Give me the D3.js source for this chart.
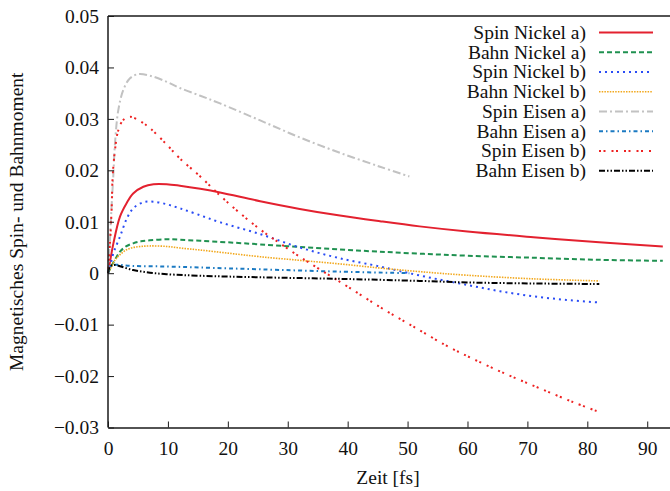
<!DOCTYPE html>
<html>
<head>
<meta charset="utf-8">
<script src="https://cdn.jsdelivr.net/npm/d3@7/dist/d3.min.js"></script>
<style>
  html, body { margin: 0; padding: 0; background: #fff; }
  svg { display: block; }
  text { font-family: "Liberation Serif", "Times New Roman", serif; fill: #111; }
</style>
</head>
<body>
<svg id="chart" width="670" height="491"></svg>
<script>
// Time axis (fs) and magnetic moment samples for each series
const spinNiA_t = [0, 0.3, 0.9, 2, 3.1, 4.2, 5.9, 7.6, 9.8, 12, 15.4, 18.7, 25.4, 32, 38.7, 45.4, 52, 60, 71, 82, 92.6];
const spinNiA   = [0, 0.002, 0.0058, 0.011, 0.0136, 0.0155, 0.0168, 0.0173, 0.0173, 0.0170, 0.0164, 0.0157, 0.0140, 0.0125, 0.0112, 0.0101, 0.0091, 0.0081, 0.0070, 0.0060, 0.0052];

const bahnNiA_t = [0, 0.5, 1.45, 2, 3, 4.2, 5.5, 7, 9.8, 12, 15.4, 20, 25.4, 32, 38.7, 45, 52, 60, 71, 82, 92.6];
const bahnNiA   = [0, 0.0012, 0.0032, 0.0042, 0.0052, 0.0058, 0.0062, 0.0064, 0.0066, 0.0065, 0.0063, 0.0060, 0.0056, 0.0051, 0.0046, 0.0042, 0.0038, 0.0034, 0.0030, 0.0026, 0.0024];

const spinNiB_t = [0, 0.4, 0.9, 2, 3.1, 4.2, 5.9, 7.6, 9.8, 12, 14.8, 18.7, 25.4, 32, 38.7, 45.4, 48.7, 54.3, 60, 65.4, 71, 76.5, 82];
const spinNiB   = [0, 0.0016, 0.0039, 0.0071, 0.0105, 0.0126, 0.0138, 0.0139, 0.0134, 0.0126, 0.0115, 0.0099, 0.0076, 0.0050, 0.0029, 0.0013, 0.0004, -0.0010, -0.0023, -0.0035, -0.0045, -0.0052, -0.0057];

const bahnNiB_t = [0, 0.5, 1.2, 2, 3, 4.2, 5.5, 7, 9.8, 12, 15.4, 20, 25.4, 32, 38.7, 45.4, 52, 60, 71, 82];
const bahnNiB   = [0, 0.0011, 0.0026, 0.0036, 0.0045, 0.0050, 0.0052, 0.0053, 0.0052, 0.0049, 0.0045, 0.0039, 0.0032, 0.0025, 0.0018, 0.0010, 0.0003, -0.0004, -0.0011, -0.0015];

const spinFeA_t = [0, 0.3, 0.6, 0.88, 1.17, 1.72, 2.55, 3.67, 5.06, 7, 9.8, 12, 15.4, 18.7, 25.4, 32, 38.7, 45.4, 50.3];
const spinFeA   = [0, 0.006, 0.013, 0.0188, 0.0253, 0.0317, 0.0356, 0.0379, 0.0387, 0.0384, 0.0372, 0.0360, 0.0345, 0.0330, 0.0297, 0.0264, 0.0234, 0.0207, 0.0188];

const bahnFeA_t = [0, 0.3, 0.9, 4.2, 9.8, 15.4, 25.4, 38.7, 50.3];
const bahnFeA   = [0, 0.0012, 0.0016, 0.0014, 0.0013, 0.0011, 0.00075, 0.0003, 0.0000];

const spinFeB_t = [0, 0.33, 0.6, 0.78, 1.17, 1.72, 2.55, 3.67, 5.3, 7, 9.8, 12, 15.4, 18.7, 22, 25.4, 28.7, 32, 35.4, 39.85, 45.4, 51, 56.5, 61, 66.6, 72.1, 77.7, 82];
const spinFeB   = [0, 0.0058, 0.0123, 0.0188, 0.024, 0.0278, 0.0298, 0.0304, 0.0296, 0.0282, 0.0250, 0.0223, 0.0188, 0.0151, 0.0117, 0.0085, 0.0058, 0.0032, 0.0007, -0.0025, -0.0066, -0.0104, -0.0141, -0.0167, -0.0197, -0.0224, -0.0251, -0.0270];

const bahnFeB_t = [0, 0.3, 0.9, 4.2, 7, 9.8, 15.4, 25.4, 38.7, 52, 60, 71, 82];
const bahnFeB   = [0, 0.0012, 0.0016, 0.0006, 0.0001, -0.0002, -0.0005, -0.0008, -0.0011, -0.0015, -0.0018, -0.0020, -0.0021];

const seriesNames = ["Spin Nickel a)", "Bahn Nickel a)", "Spin Nickel b)", "Bahn Nickel b)",
                     "Spin Eisen a)", "Bahn Eisen a)", "Spin Eisen b)", "Bahn Eisen b)"];

const xTicks = [0, 10, 20, 30, 40, 50, 60, 70, 80, 90];
const yTicks = [-0.03, -0.02, -0.01, 0, 0.01, 0.02, 0.03, 0.04, 0.05];

const xTitle = "Zeit [fs]";
const yTitle = "Magnetisches Spin- und Bahnmoment";

// Line styles per series
const styles = [
  { color: "#e3212f", dash: null,               width: 2 },
  { color: "#1f9150", dash: "5,3",              width: 2 },
  { color: "#2a4cf5", dash: "2,4",              width: 2 },
  { color: "#f2a81d", dash: "1.5,1.2",          width: 1.6 },
  { color: "#c2c2c2", dash: "8,3,2,3",          width: 2 },
  { color: "#1b7ac2", dash: "4,3,1.5,3",        width: 2 },
  { color: "#ee2222", dash: "2,2.5,2,6",        width: 2 },
  { color: "#000000", dash: "6,2,1.5,2,1.5,2",  width: 2 }
];

const seriesT = [spinNiA_t, bahnNiA_t, spinNiB_t, bahnNiB_t, spinFeA_t, bahnFeA_t, spinFeB_t, bahnFeB_t];
const seriesV = [spinNiA, bahnNiA, spinNiB, bahnNiB, spinFeA, bahnFeA, spinFeB, bahnFeB];

const series = seriesNames.map((name, i) => ({
  name,
  style: styles[i],
  points: seriesT[i].map((t, j) => ({ t, v: seriesV[i][j] }))
}));

const svg = d3.select("#chart");
const plotLeft = 108, plotRight = 670, plotTop = 16, plotBottom = 427.5;

const x = d3.scaleLinear().domain([0, 93.8]).range([plotLeft, plotRight]);
const y = d3.scaleLinear().domain([-0.03, 0.05]).range([plotBottom, plotTop]);

const fontSize = "19.5px";

// Curves
const line = d3.line()
  .x(d => x(d.t))
  .y(d => y(d.v))
  .curve(d3.curveCatmullRom.alpha(0.5));

const plot = svg.append("g");
plot.selectAll("path.series")
  .data(series)
  .join("path")
  .attr("class", "series")
  .attr("d", d => line(d.points))
  .attr("fill", "none")
  .attr("stroke", d => d.style.color)
  .attr("stroke-width", d => d.style.width)
  .attr("stroke-dasharray", d => d.style.dash);

// Axes with inward ticks
const axisColor = "#1a1a1a";
const yAxis = d3.axisLeft(y)
  .tickValues(yTicks)
  .tickFormat(v => v === 0 ? "0" : d3.format(".2f")(v))
  .tickSizeInner(-6)
  .tickSizeOuter(0)
  .tickPadding(9);

const xAxis = d3.axisBottom(x)
  .tickValues(xTicks)
  .tickFormat(d3.format("d"))
  .tickSizeInner(-6)
  .tickSizeOuter(0)
  .tickPadding(14);

const gy = svg.append("g").attr("transform", `translate(${plotLeft},0)`).call(yAxis);
const gx = svg.append("g").attr("transform", `translate(0,${plotBottom})`).call(xAxis);

[gx, gy].forEach(g => {
  g.select(".domain").attr("stroke", axisColor).attr("stroke-width", 1.5);
  g.selectAll(".tick line").attr("stroke", axisColor).attr("stroke-width", 1);
  g.selectAll(".tick text")
    .attr("fill", "#111")
    .style("font-family", '"Liberation Serif", "Times New Roman", serif')
    .style("font-size", fontSize);
});
gy.select(".domain").attr("d", `M0,${plotTop}V${plotBottom}`);

// Top border of the frame
svg.append("line")
  .attr("x1", plotLeft).attr("x2", plotRight)
  .attr("y1", plotTop).attr("y2", plotTop)
  .attr("stroke", axisColor).attr("stroke-width", 1.5);

// Axis titles
svg.append("text")
  .attr("x", 388).attr("y", 484)
  .attr("text-anchor", "middle")
  .style("font-size", fontSize)
  .text(xTitle);

svg.append("text")
  .attr("transform", `translate(23,${(plotTop + plotBottom) / 2}) rotate(-90)`)
  .attr("text-anchor", "middle")
  .style("font-size", fontSize)
  .text(yTitle);

// Legend
const legend = svg.append("g");
const rowY0 = 32.5, rowStep = 19.75;
const rows = legend.selectAll("g.row")
  .data(series)
  .join("g")
  .attr("class", "row")
  .attr("transform", (d, i) => `translate(0,${rowY0 + i * rowStep})`);

rows.append("text")
  .attr("x", 586).attr("y", 0).attr("dy", "0.33em")
  .attr("text-anchor", "end")
  .style("font-size", fontSize)
  .text(d => d.name);

rows.append("line")
  .attr("x1", 599).attr("x2", 653)
  .attr("y1", 0).attr("y2", 0)
  .attr("stroke", d => d.style.color)
  .attr("stroke-width", d => d.style.width)
  .attr("stroke-dasharray", d => d.style.dash);
</script>
</body>
</html>
